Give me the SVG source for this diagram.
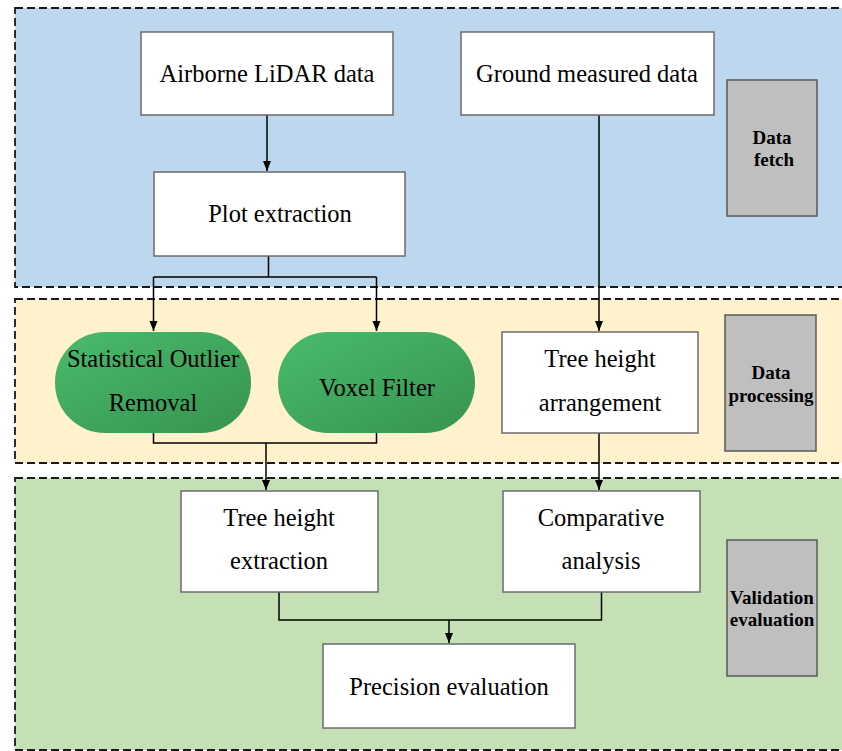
<svg xmlns="http://www.w3.org/2000/svg" width="842" height="751" viewBox="0 0 842 751">
<defs>
<linearGradient id="gr" x1="0" y1="0" x2="1" y2="1">
<stop offset="0" stop-color="#4ABB6C"/>
<stop offset="1" stop-color="#36934F"/>
</linearGradient>
<marker id="a" viewBox="0 0 10 10" refX="10" refY="5" markerWidth="10" markerHeight="10" markerUnits="userSpaceOnUse" orient="auto">
<path d="M0,1 L10,5 L0,9 Z" fill="#000"/>
</marker>
</defs>
<style>
.panel{stroke:#1a1a1a;stroke-width:1.8;stroke-dasharray:8 4}
.box{fill:#fff;stroke:#6b6b6b;stroke-width:1.5}
.gray{fill:#BFBFBF;stroke:#5a5a5a;stroke-width:1.5}
.t{font-family:"Liberation Serif","Times New Roman",serif;font-size:24.5px;fill:#000;text-anchor:middle;dominant-baseline:central}
.l{font-family:"Liberation Serif","Times New Roman",serif;font-size:19px;font-weight:bold;fill:#000;text-anchor:middle;dominant-baseline:central}
.c{fill:none;stroke:#000;stroke-width:1.5}
</style>
<rect width="842" height="751" fill="#fff"/>
<g id="panel-fetch"><rect class="panel" x="15" y="8" width="840" height="279" fill="#BDD7EE"/></g>
<g id="panel-processing"><rect class="panel" x="15" y="299" width="840" height="164" fill="#FFF2CC"/></g>
<g id="panel-validation"><rect class="panel" x="15" y="478" width="840" height="272" fill="#C5E0B4"/></g>

<g id="connectors">
<path class="c" d="M267,115 V171" marker-end="url(#a)"/>
<path class="c" d="M599,115 V331" marker-end="url(#a)"/>
<path class="c" d="M268.5,256 V277 M153.5,277 H376.5"/>
<path class="c" d="M153.5,277 V331" marker-end="url(#a)"/>
<path class="c" d="M376.5,277 V331" marker-end="url(#a)"/>
<path class="c" d="M153.5,433 V443 H376.5 V433"/>
<path class="c" d="M266,443 V490" marker-end="url(#a)"/>
<path class="c" d="M599,433 V490" marker-end="url(#a)"/>
<path class="c" d="M279,592 V620 H601.5 V592"/>
<path class="c" d="M449,620 V643" marker-end="url(#a)"/>
</g>

<g id="airborne"><rect class="box" x="141" y="32" width="252" height="83"/><text class="t" x="267" y="73">Airborne LiDAR data</text></g>
<g id="ground"><rect class="box" x="461" y="32" width="253" height="83"/><text class="t" x="587" y="73">Ground measured data</text></g>
<g id="plot"><rect class="box" x="154" y="172" width="251" height="84"/><text class="t" x="280" y="213">Plot extraction</text></g>
<g id="data-fetch"><rect class="gray" x="727" y="80" width="90" height="136"/><text class="l" x="772" y="137">Data</text><text class="l" x="774" y="159">fetch</text></g>

<g id="sor"><rect x="55" y="332" width="196" height="101" rx="50" ry="50" fill="url(#gr)"/><text class="t" x="153" y="358">Statistical Outlier</text><text class="t" x="153" y="402">Removal</text></g>
<g id="voxel"><rect x="278" y="332" width="197" height="101" rx="50" ry="50" fill="url(#gr)"/><text class="t" x="377" y="387">Voxel Filter</text></g>
<g id="arrangement"><rect class="box" x="502" y="332" width="196" height="101"/><text class="t" x="600" y="358">Tree height</text><text class="t" x="600" y="402">arrangement</text></g>
<g id="data-processing"><rect class="gray" x="725" y="315" width="91" height="136"/><text class="l" x="771" y="372">Data</text><text class="l" x="771" y="395">processing</text></g>

<g id="tree-extraction"><rect class="box" x="181" y="491" width="197" height="101"/><text class="t" x="279" y="517">Tree height</text><text class="t" x="279" y="560">extraction</text></g>
<g id="comparative"><rect class="box" x="503" y="491" width="197" height="101"/><text class="t" x="601" y="517">Comparative</text><text class="t" x="601" y="560">analysis</text></g>
<g id="precision"><rect class="box" x="323" y="644" width="252" height="84"/><text class="t" x="449" y="686">Precision evaluation</text></g>
<g id="validation"><rect class="gray" x="727" y="540" width="90" height="136"/><text class="l" x="772" y="597">Validation</text><text class="l" x="772" y="619">evaluation</text></g>
</svg>
